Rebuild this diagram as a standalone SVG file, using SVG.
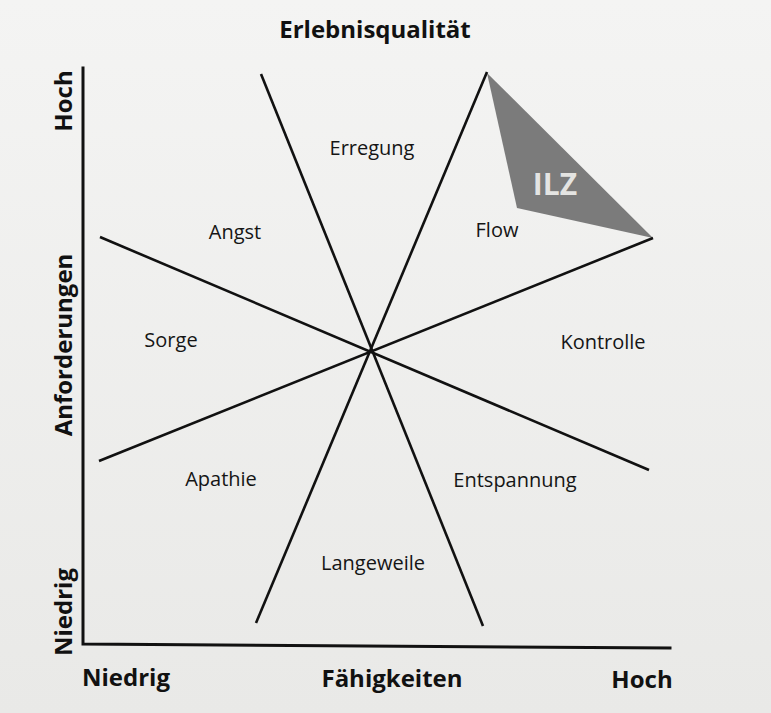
<svg xmlns="http://www.w3.org/2000/svg" width="771" height="713" viewBox="0 0 771 713">
  <defs>
    <linearGradient id="bg" x1="0" y1="0" x2="0" y2="1">
      <stop offset="0" stop-color="#f4f4f3"/>
      <stop offset="1" stop-color="#e9e9e7"/>
    </linearGradient>
    <style>
      .axis { stroke: #111; stroke-width: 3; fill: none; stroke-linecap: square; }
      .ray { stroke: #111; stroke-width: 2.6; fill: none; }
      .lbl { font-family: "Open Sans", "Noto Sans", "Liberation Sans", sans-serif; font-size: 20px; fill: #151515; text-anchor: middle; }
      .ttl { font-family: "Open Sans", "Noto Sans", "Liberation Sans", sans-serif; font-size: 24px; font-weight: bold; fill: #111; text-anchor: middle; }
      .ilz { font-family: "Open Sans", "Noto Sans", "Liberation Sans", sans-serif; font-size: 30px; font-weight: bold; fill: #e4e4e2; text-anchor: middle; }
    </style>
  </defs>
  <rect x="0" y="0" width="771" height="713" fill="url(#bg)"/>

  <g id="ilz-zone">
    <polygon points="487,73 653,238 517,208" fill="#7b7b7b"/>
    <text class="ilz" x="555" y="195">ILZ</text>
  </g>

  <g id="connectors">
    <line class="ray" x1="261" y1="74" x2="483" y2="626"/>
    <line class="ray" x1="487" y1="72" x2="256" y2="623"/>
    <line class="ray" x1="100" y1="237" x2="649" y2="470"/>
    <line class="ray" x1="99" y1="461" x2="653" y2="238"/>
  </g>

  <g id="axes">
    <polyline class="axis" points="83,68 83,644 670,648"/>
  </g>

  <g id="title"><text class="ttl" x="375" y="38">Erlebnisqualität</text></g>

  <g id="y-labels">
    <text class="ttl" transform="translate(72,101) rotate(-90)">Hoch</text>
    <text class="ttl" transform="translate(72,345) rotate(-90)">Anforderungen</text>
    <text class="ttl" transform="translate(72,612) rotate(-90)">Niedrig</text>
  </g>

  <g id="x-labels">
    <text class="ttl" x="126" y="686">Niedrig</text>
    <text class="ttl" x="392" y="687">Fähigkeiten</text>
    <text class="ttl" x="642" y="688">Hoch</text>
  </g>

  <g id="node-erregung"><text class="lbl" x="372" y="155">Erregung</text></g>
  <g id="node-angst"><text class="lbl" x="235" y="239">Angst</text></g>
  <g id="node-flow"><text class="lbl" x="497" y="237">Flow</text></g>
  <g id="node-sorge"><text class="lbl" x="171" y="347">Sorge</text></g>
  <g id="node-kontrolle"><text class="lbl" x="603" y="349">Kontrolle</text></g>
  <g id="node-apathie"><text class="lbl" x="221" y="486">Apathie</text></g>
  <g id="node-entspannung"><text class="lbl" x="515" y="487">Entspannung</text></g>
  <g id="node-langeweile"><text class="lbl" x="373" y="570">Langeweile</text></g>
</svg>
